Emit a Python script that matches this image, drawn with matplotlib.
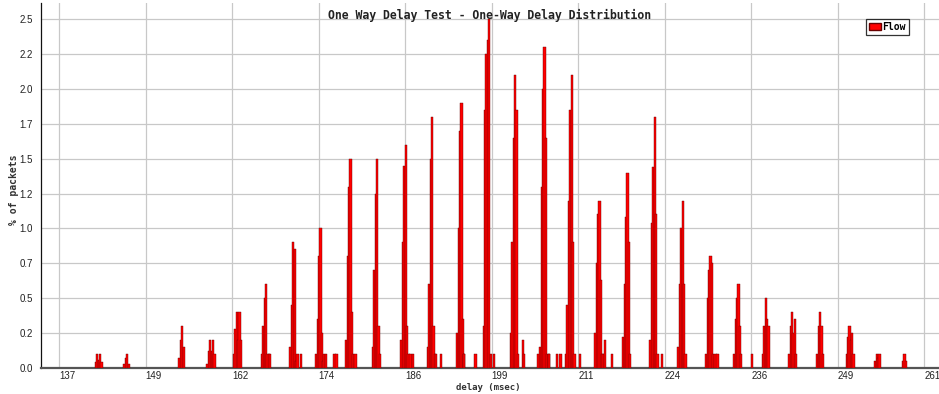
import matplotlib
matplotlib.use("Agg")
import matplotlib.pyplot as plt
import matplotlib.transforms as mtransforms
from matplotlib.patches import Patch

# Данные: пики гистограммы задержки (начало пика, мс) и высоты соседних корзин (%)
BIN = 0.2
spike_start = [142.1, 146.2, 154.1, 158.1, 161.9, 165.9, 170.0, 173.7, 178.0, 181.8,
               185.9, 189.7, 193.9, 197.7, 201.6, 205.8, 209.5, 213.7, 217.7, 221.6,
               225.6, 229.6, 233.6, 237.7, 241.5, 245.5, 249.7, 253.8, 257.8]
spike_heights = [
    [0.04, 0.1, 0.06, 0.1, 0.04],
    [0.03, 0.07, 0.1, 0.03],
    [0.07, 0.2, 0.3, 0.15],
    [0.03, 0.12, 0.2, 0.12, 0.2, 0.1],
    [0.1, 0.28, 0.4, 0.2, 0.4, 0.2],
    [0.1, 0.3, 0.5, 0.6, 0.1, 0.1, 0.1],
    [0.15, 0.45, 0.9, 0.85, 0.05],
    [0.1, 0.35, 0.8, 1.0, 0.25, 0.05],
    [0.2, 0.8, 1.3, 1.5, 0.4, 0.1],
    [0.15, 0.7, 1.25, 1.5, 0.3, 0.1],
    [0.2, 0.9, 1.45, 1.6, 0.3, 0.1],
    [0.15, 0.6, 1.5, 1.8, 0.3, 0.1],
    [0.25, 1.0, 1.7, 1.9, 0.35, 0.1],
    [0.3, 1.85, 2.25, 2.35, 2.5, 0.1],
    [0.25, 0.9, 1.65, 2.1, 1.85, 0.1],
    [0.15, 1.3, 2.0, 2.3, 1.65, 0.1, 0.1],
    [0.1, 0.45, 1.2, 1.85, 2.1, 0.9, 0.1],
    [0.25, 0.75, 1.1, 1.2, 0.63, 0.1],
    [0.22, 0.6, 1.08, 1.4, 0.9, 0.1],
    [0.2, 1.04, 1.44, 1.8, 1.1, 0.1],
    [0.15, 0.6, 1.0, 1.2, 0.6, 0.1],
    [0.1, 0.5, 0.7, 0.8, 0.75, 0.1],
    [0.1, 0.35, 0.5, 0.6, 0.3, 0.1],
    [0.1, 0.3, 0.5, 0.35, 0.3],
    [0.1, 0.3, 0.4, 0.25, 0.35, 0.1],
    [0.1, 0.3, 0.4, 0.3, 0.1],
    [0.1, 0.22, 0.3, 0.2, 0.25, 0.1],
    [0.05, 0.1, 0.07, 0.1],
    [0.05, 0.1, 0.05],
]

# Одиночные маленькие столбики между пиками
sat_delay = [171.0, 171.5, 174.8, 175.1, 176.3, 176.6, 179.3, 187.2, 187.5, 190.9,
             191.6, 194.9, 196.5, 199.2, 203.3, 203.5, 205.5, 207.0, 208.2, 208.7,
             211.5, 214.8, 215.1, 216.1, 223.2, 230.9, 231.2, 236.1]
sat_pct = [0.1, 0.1, 0.1, 0.1, 0.1, 0.1, 0.1, 0.1, 0.1, 0.1,
           0.1, 0.1, 0.1, 0.1, 0.2, 0.1, 0.1, 0.1, 0.1, 0.1,
           0.1, 0.1, 0.2, 0.1, 0.1, 0.1, 0.1, 0.1]

x_ticks = [137, 149.4, 161.8, 174.2, 186.6, 199, 211.4, 223.8, 236.2, 248.6, 261]
x_labels = ['137', '149', '162', '174', '186', '199', '211', '224', '236', '249', '261']
y_ticks = [0, 0.25, 0.5, 0.75, 1.0, 1.25, 1.5, 1.75, 2.0, 2.25, 2.5]
y_labels = ['0.0', '0.2', '0.5', '0.7', '1.0', '1.2', '1.5', '1.7', '2.0', '2.2', '2.5']

FACE = '#ff0000'
EDGE = '#6a0000'
MONO = 'DejaVu Sans Mono'
SANS = 'Liberation Sans'

fig = plt.figure(figsize=(9.39, 3.94), dpi=100)
ax = fig.add_axes([41 / 939, 1 - 368 / 394, 1 - 41 / 939, 365 / 394])

# столбики рисуются шире шага корзины, чтобы пики были плотными
for start, heights in zip(spike_start, spike_heights):
    xs = [start + i * BIN for i in range(len(heights))]
    ax.bar(xs, heights, width=BIN * 1.6, align='edge', color=FACE,
           edgecolor=EDGE, linewidth=0.3, zorder=3)
ax.bar(sat_delay, sat_pct, width=BIN * 1.6, align='edge', color=FACE,
       edgecolor=EDGE, linewidth=0.3, zorder=3)

ax.set_xlim(134.4, 263.1)
ax.set_ylim(0, 2.615)
ax.set_xticks(x_ticks)
ax.set_xticklabels(x_labels, family=SANS)
ax.set_yticks(y_ticks)
ax.set_yticklabels(y_labels, family=SANS)
shift = mtransforms.ScaledTranslation(-1.5 / 100, 0, fig.dpi_scale_trans)
for lbl in ax.get_xticklabels():
    lbl.set_horizontalalignment('left')
    lbl.set_transform(lbl.get_transform() + shift)
ax.tick_params(axis='both', length=0, labelsize=7, colors='#222222')
ax.tick_params(axis='x', pad=2.5)
ax.tick_params(axis='y', pad=6)

ax.grid(True, color='#c8c8c8', linewidth=0.9, zorder=0)
ax.set_axisbelow(True)
for side in ('top', 'right'):
    ax.spines[side].set_visible(False)
ax.spines['left'].set_color('#111111')
ax.spines['left'].set_linewidth(0.9)
ax.spines['bottom'].set_color('#555555')
ax.spines['bottom'].set_linewidth(1.6)

ax.text(0.5, 0.965, 'One Way Delay Test - One-Way Delay Distribution',
        transform=ax.transAxes, ha='center', va='center',
        fontsize=8.3, fontweight='bold', family=MONO, color='#222222')
fig.text(488 / 939, 1 - 387 / 394, 'delay (msec)', ha='center', va='center',
         fontsize=6.5, fontweight='bold', family=MONO, color='#333333')
fig.text(14 / 939, 1 - 190 / 394, '% of packets', ha='center', va='center',
         rotation=90, fontsize=7, fontweight='bold', family=MONO, color='#333333')

leg = ax.legend(handles=[Patch(facecolor=FACE, edgecolor=EDGE)], labels=['Flow'],
                loc='upper left', bbox_to_anchor=(866 / 939, 1 - 19 / 394),
                bbox_transform=fig.transFigure, frameon=True, fancybox=False,
                borderpad=0.3, handlelength=1.2, handleheight=0.6,
                handletextpad=0.2, borderaxespad=0,
                prop={'family': MONO, 'weight': 'bold', 'size': 7})
leg.get_frame().set_edgecolor('black')
leg.get_frame().set_linewidth(0.9)

fig.savefig('out.png', dpi=100)
